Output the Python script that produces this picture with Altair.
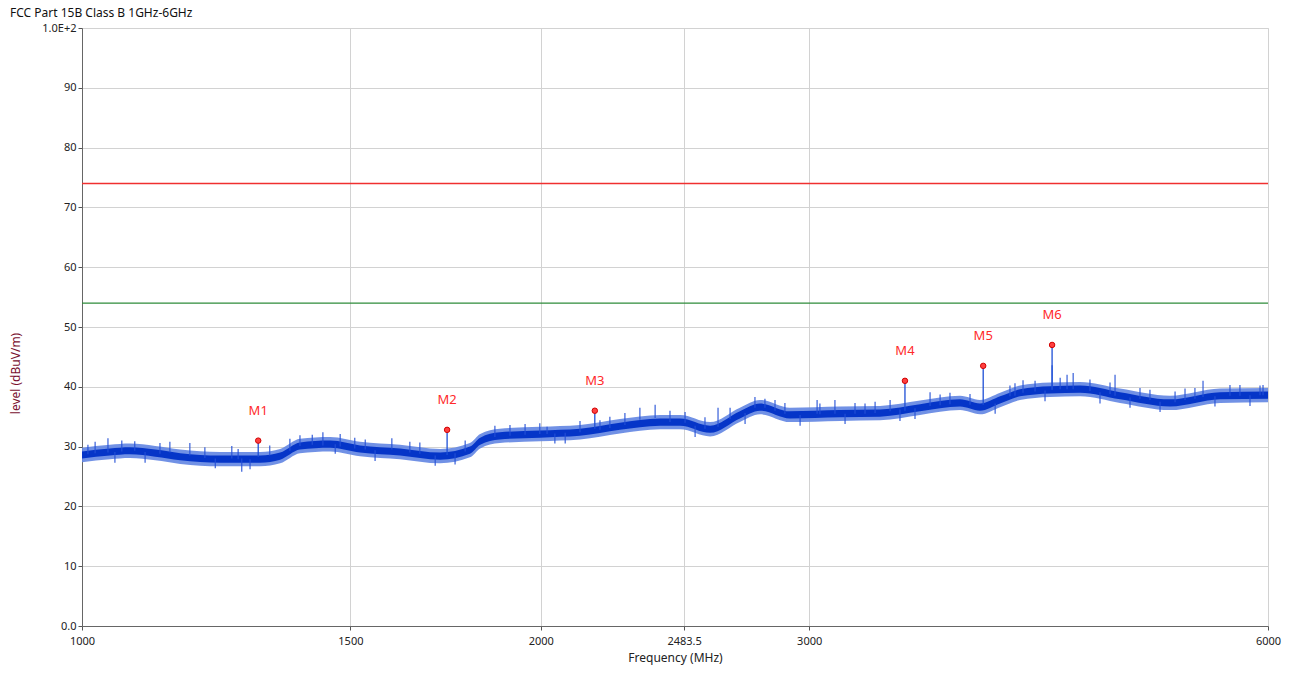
import altair as alt
import pandas as pd

# ---- data ----
trace_freq = [1000, 1043, 1075, 1117, 1160, 1232, 1309, 1349, 1390, 1455, 1522, 1617,
              1718, 1797, 1825, 1880, 1998, 2122, 2254, 2395, 2468, 2583, 2702, 2785,
              2914, 3143, 3339, 3547, 3768, 3883, 4003, 4125, 4317, 4517, 4798, 5175,
              5581, 6000]
trace_level = [28.6, 29.1, 29.3, 28.9, 28.3, 27.9, 27.9, 28.4, 30.1, 30.4, 29.6, 29.1,
               28.4, 29.4, 30.9, 31.8, 32.1, 32.4, 33.4, 34.1, 34.1, 32.9, 35.3, 36.6,
               35.3, 35.5, 35.6, 36.5, 37.3, 36.6, 37.8, 39.0, 39.5, 39.6, 38.5, 37.3,
               38.5, 38.6]

# noise spikes (frequency, tip, foot), first set
spike_freq = [1020, 1040, 1062, 1100, 1142, 1177, 1204, 1254, 1273, 1289, 1369, 1416,
              1439, 1477, 1510, 1557, 1597, 1666, 1757, 1866, 1909, 1953, 2019, 2075,
              2220, 2271, 2323, 2377, 2431, 2525, 2614, 2662, 2764, 2849, 2959, 3036,
              3119, 3215, 3314, 3441, 3601, 3711, 3973, 4094, 4144, 4220, 4330, 4429,
              4470, 4585, 4655, 4762, 4945, 5097, 5293, 5439, 5665, 5839, 5955]
spike_top = [30.8, 31.4, 31.0, 27.3, 30.8, 30.6, 29.9, 30.1, 25.8, 26.2, 31.3, 32.0,
             32.4, 32.1, 31.5, 27.6, 31.4, 30.7, 27.0, 33.5, 33.6, 33.8, 33.3, 30.5,
             35.0, 35.6, 36.5, 37.0, 36.0, 31.6, 36.5, 36.5, 38.3, 37.8, 33.5, 37.8,
             37.8, 37.3, 37.5, 34.3, 39.1, 39.0, 35.5, 40.6, 41.1, 41.0, 43.6, 42.0,
             42.3, 41.2, 37.2, 42.0, 39.8, 35.8, 39.7, 41.0, 40.3, 36.8, 40.3]
spike_base = [28.9, 29.0, 29.2, 29.1, 29.0, 28.5, 28.1, 28.0, 28.0, 27.9, 29.3, 30.3,
              30.2, 30.0, 29.7, 29.4, 29.5, 28.8, 28.9, 31.6, 31.8, 32.0, 32.1, 32.3,
              33.1, 33.6, 34.5, 34.8, 34.1, 33.5, 33.3, 34.6, 36.5, 36.0, 35.3, 35.5,
              35.5, 35.5, 35.6, 36.2, 36.8, 37.1, 37.2, 38.5, 39.0, 39.2, 39.5, 39.6,
              39.6, 39.3, 39.1, 38.5, 38.0, 37.5, 37.8, 38.3, 38.5, 38.6, 38.6]

# noise spikes, second set
spike2_freq = [1009, 1051, 1083, 1125, 1223, 1266, 1328, 1390, 1466, 1534, 1641, 1705,
               1784, 1997, 2043, 2122, 2187, 2487, 2563, 2723, 2806, 2892, 3049, 3167,
               3264, 3390, 3520, 3656, 3825, 4063, 4284, 4383, 4726, 4871, 5020, 5214,
               5373, 5538, 5751, 5928]
spike2_top = [30.3, 27.3, 30.9, 30.6, 26.4, 29.6, 30.2, 31.9, 28.8, 31.2, 30.8, 26.8,
              31.0, 33.9, 30.5, 34.3, 34.4, 35.8, 34.9, 33.8, 38.0, 37.3, 37.2, 33.8,
              37.2, 37.8, 34.6, 38.7, 38.8, 40.2, 37.6, 41.5, 40.7, 36.5, 39.5, 39.2,
              39.8, 36.7, 40.3, 40.2]
spike2_base = [28.7, 29.1, 29.3, 28.8, 28.0, 27.9, 28.5, 30.1, 30.4, 29.5, 29.0, 28.5,
               29.2, 32.1, 32.2, 32.4, 32.8, 34.0, 33.0, 35.6, 36.5, 35.5, 35.4, 35.5,
               35.5, 35.9, 36.4, 36.9, 37.0, 38.4, 39.4, 39.6, 38.8, 38.2, 37.8, 37.4,
               38.0, 38.4, 38.5, 38.6]

marker_names = ["M1", "M2", "M3", "M4", "M5", "M6"]
marker_freq = [1305, 1736, 2170, 3467, 3902, 4330]
marker_level = [31.0, 32.8, 36.0, 41.0, 43.5, 47.0]
marker_base = [28.3, 28.6, 33.0, 36.0, 37.0, 39.5]

limit_qp_level = [74]
limit_av_level = [54]
freq_range = [1000, 6000]

x_ticks = [1000, 1500, 2000, 2483.5, 3000, 6000]
y_ticks = [0, 10, 20, 30, 40, 50, 60, 70, 80, 90, 100]

# ---- tables ----
trace = pd.DataFrame({"freq": trace_freq, "level": trace_level})
trace["lo_outer"] = trace["level"] - 1.2
trace["hi_outer"] = trace["level"] + 1.2
trace["lo_inner"] = trace["level"] - 0.6
trace["hi_inner"] = trace["level"] + 0.6
spikes = pd.concat([
    pd.DataFrame({"freq": spike_freq, "top": spike_top, "base": spike_base}),
    pd.DataFrame({"freq": spike2_freq, "top": spike2_top, "base": spike2_base}),
], ignore_index=True)
markers = pd.DataFrame({"name": marker_names, "freq": marker_freq,
                        "level": marker_level, "base": marker_base})
qp = pd.DataFrame({"lvl": limit_qp_level, "f0": [freq_range[0]], "f1": [freq_range[1]]})
av = pd.DataFrame({"lvl": limit_av_level, "f0": [freq_range[0]], "f1": [freq_range[1]]})

FONT = "Noto Sans"

xscale = alt.Scale(type="log", domain=freq_range, nice=False)
yscale = alt.Scale(domain=[0, 100], nice=False)

xax = alt.Axis(values=x_ticks, labelExpr="datum.value + ''", title="Frequency (MHz)",
               grid=True, gridColor="#d2d2d2", tickSize=4, tickColor="#555",
               domainColor="#666", labelFont=FONT, labelFontSize=11, labelColor="#222",
               titleFont=FONT, titleFontSize=12, titleFontWeight="normal", titleColor="#222",
               labelPadding=5, titlePadding=6, labelFlush=False)
yax = alt.Axis(values=y_ticks,
               labelExpr="datum.value == 0 ? '0.0' : (datum.value == 100 ? '1.0E+2' : datum.label)",
               title="level (dBuV/m)", grid=True, gridColor="#d2d2d2", tickSize=4,
               tickColor="#555", domainColor="#666", labelFont=FONT, labelFontSize=11,
               labelColor="#222", titleFont=FONT, titleFontSize=12,
               titleFontWeight="normal", titleColor="#7a1030", titleX=-60, titleY=345,
               labelFlush=False)

outer = alt.Chart(trace).mark_area(color="#6285e2", opacity=0.9, interpolate="monotone").encode(
    x=alt.X("freq:Q", scale=xscale, axis=xax),
    y=alt.Y("lo_outer:Q", scale=yscale, axis=yax),
    y2="hi_outer:Q",
)
inner = alt.Chart(trace).mark_area(color="#0535c8", interpolate="monotone").encode(
    x=alt.X("freq:Q", scale=xscale),
    y=alt.Y("lo_inner:Q", scale=yscale),
    y2="hi_inner:Q",
)
spike_rules = alt.Chart(spikes).mark_rule(color="#2450d6", strokeWidth=1.1).encode(
    x=alt.X("freq:Q", scale=xscale),
    y=alt.Y("base:Q", scale=yscale),
    y2="top:Q",
)
qp_rule = alt.Chart(qp).mark_rule(stroke="#f03030", strokeWidth=1.3, opacity=1).encode(
    y=alt.Y("lvl:Q", scale=yscale),
    x=alt.X("f0:Q", scale=xscale), x2="f1:Q",
)
av_rule = alt.Chart(av).mark_rule(stroke="#2e8b3a", strokeWidth=1.2, opacity=1).encode(
    y=alt.Y("lvl:Q", scale=yscale),
    x=alt.X("f0:Q", scale=xscale), x2="f1:Q",
)
stems = alt.Chart(markers).mark_rule(color="#1d4fd6", strokeWidth=1.3).encode(
    x=alt.X("freq:Q", scale=xscale),
    y=alt.Y("base:Q", scale=yscale),
    y2="level:Q",
)
dots = alt.Chart(markers).mark_point(filled=True, color="#ff4040", size=30, opacity=1,
                                      stroke="#d00000", strokeWidth=1).encode(
    x=alt.X("freq:Q", scale=xscale),
    y=alt.Y("level:Q", scale=yscale),
)
labels = alt.Chart(markers).mark_text(color="#ff2a2a", font=FONT, fontSize=13, dy=-30).encode(
    x=alt.X("freq:Q", scale=xscale),
    y=alt.Y("level:Q", scale=yscale),
    text="name:N",
)

chart = alt.layer(outer, inner, spike_rules, av_rule, qp_rule, stems, dots, labels).properties(
    width=1186,
    height=598,
    title=alt.TitleParams("FCC Part 15B  Class B 1GHz-6GHz", anchor="start", frame="group",
                          dx=-72, offset=2, font=FONT, fontSize=12, fontWeight="normal",
                          color="#111"),
    autosize=alt.AutoSizeParams(type="none"),
    padding={"left": 74, "top": 20, "right": 14, "bottom": 44},
).configure_view(stroke="#9a9a9a").configure(background="white")

chart.save("out.html", embed_options={"renderer": "svg", "actions": False})
